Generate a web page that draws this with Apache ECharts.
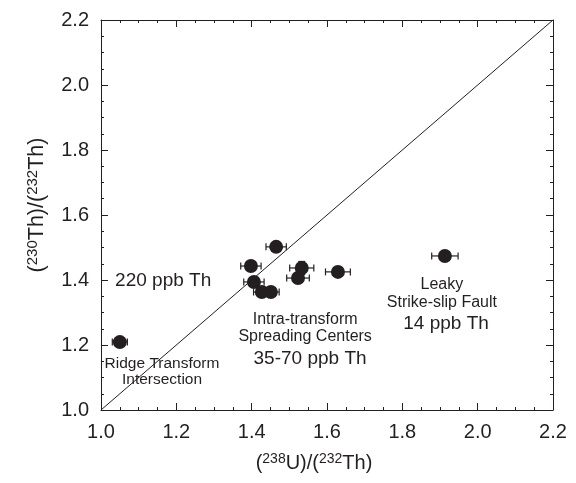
<!DOCTYPE html>
<html><head><meta charset="utf-8">
<script src="https://cdn.jsdelivr.net/npm/echarts@6/dist/echarts.min.js"></script>
<style>html,body{margin:0;padding:0;background:#fff}#c{width:576px;height:483px}</style>
</head><body><div id="c"></div>
<script>
// Data
var uTh = [1.05, 1.913, 1.465, 1.398, 1.406, 1.427, 1.451, 1.533, 1.523, 1.629];
var thTh = [1.209, 1.474, 1.502, 1.443, 1.394, 1.363, 1.363, 1.437, 1.406, 1.425];
var uThErr = [0.02, 0.035, 0.027, 0.027, 0.027, 0.022, 0.022, 0.032, 0.03, 0.033];
var thThErr = [0.008, 0.008, 0.008, 0.008, 0.01, 0.01, 0.01, 0.02, 0.015, 0.008];
var equiline = [[1.0, 1.0], [2.2, 2.2]];
var xTicks = [1.0, 1.2, 1.4, 1.6, 1.8, 2.0, 2.2];
var yTicks = [1.0, 1.2, 1.4, 1.6, 1.8, 2.0, 2.2];
var noteTexts = ['220 ppb Th', 'Intra-transform', 'Spreading Centers', '35-70 ppb Th',
  'Ridge Transform', 'Intersection', 'Leaky', 'Strike-slip Fault', '14 ppb Th'];
var noteX = [1.165, 1.542, 1.542, 1.555, 1.162, 1.162, 1.905, 1.905, 1.916];
var noteY = [1.397, 1.277, 1.225, 1.157, 1.142, 1.093, 1.385, 1.332, 1.265];
var noteSize = [19, 16, 16, 19, 15.5, 15.5, 16, 16, 19];

var FONT = 'Liberation Sans, Arial, sans-serif';
var INK = '#231f20';
var chart = echarts.init(document.getElementById('c'));

function axisCommon(showLabels) {
  return {
    min: 1.0, max: 2.2, interval: 0.2,
    axisLine: {show: true, onZero: false, lineStyle: {color: INK, width: 1}},
    axisTick: {show: true, inside: true, length: 7, lineStyle: {color: INK, width: 1}},
    minorTick: {show: true, splitNumber: 4, length: 3, lineStyle: {color: INK, width: 1}},
    splitLine: {show: false},
    axisLabel: {show: showLabels, color: INK, fontFamily: FONT, fontSize: 20,
      formatter: function (v) { return v.toFixed(1); }}
  };
}

function richTitle(sz) {
  return {
    p: {fontFamily: FONT, fontSize: sz, color: INK},
    s: {fontFamily: FONT, fontSize: Math.round(sz * 0.7), color: INK, verticalAlign: 'top', padding: [0, 0, 9, 0]}
  };
}

var xMain = axisCommon(true);
xMain.type = 'value'; xMain.position = 'bottom'; xMain.axisLabel.margin = 12;
xMain.name = '{p|(}{s|238}{p|U)/(}{s|232}{p|Th)}';
xMain.nameLocation = 'middle'; xMain.nameGap = 42;
xMain.nameTextStyle = {rich: richTitle(20), padding: [0, 26, 0, 0]};
var xTop = axisCommon(false); xTop.type = 'value'; xTop.position = 'top';

var yMain = axisCommon(true);
yMain.type = 'value'; yMain.position = 'left'; yMain.axisLabel.margin = 12;
yMain.name = '{p|(}{s|230}{p|Th)/(}{s|232}{p|Th)}';
yMain.nameLocation = 'middle'; yMain.nameGap = 52; yMain.nameRotate = 90;
yMain.nameTextStyle = {rich: richTitle(21.5), padding: [0, 0, 0, 20]};
var yRight = axisCommon(false); yRight.type = 'value'; yRight.position = 'right';

var pts = uTh.map(function (x, i) { return [x, thTh[i]]; });
var errData = uTh.map(function (x, i) { return [x, thTh[i], uThErr[i], thThErr[i]]; });
var notes = noteTexts.map(function (t, i) {
  return {value: [noteX[i], noteY[i]], label: {formatter: t, fontSize: noteSize[i]}};
});

chart.setOption({
  animation: false,
  backgroundColor: '#fff',
  grid: {left: 101, right: 23, top: 20, bottom: 73},
  xAxis: [xMain, xTop],
  yAxis: [yMain, yRight],
  series: [
    {type: 'line', data: equiline, symbol: 'none', xAxisIndex: 0, yAxisIndex: 0,
     lineStyle: {color: INK, width: 1}},
    {type: 'custom', xAxisIndex: 0, yAxisIndex: 0, data: errData,
     renderItem: function (params, api) {
       var x = api.value(0), y = api.value(1), ex = api.value(2), ey = api.value(3);
       var l = api.coord([x - ex, y]), r = api.coord([x + ex, y]);
       var t = api.coord([x, y + ey]), b = api.coord([x, y - ey]);
       var st = {stroke: INK, lineWidth: 1.2};
       var c = 3.5;
       return {type: 'group', children: [
         {type: 'line', shape: {x1: l[0], y1: l[1], x2: r[0], y2: r[1]}, style: st},
         {type: 'line', shape: {x1: l[0], y1: l[1] - c, x2: l[0], y2: l[1] + c}, style: st},
         {type: 'line', shape: {x1: r[0], y1: r[1] - c, x2: r[0], y2: r[1] + c}, style: st},
         {type: 'line', shape: {x1: t[0], y1: t[1], x2: b[0], y2: b[1]}, style: st},
         {type: 'line', shape: {x1: t[0] - c, y1: t[1], x2: t[0] + c, y2: t[1]}, style: st},
         {type: 'line', shape: {x1: b[0] - c, y1: b[1], x2: b[0] + c, y2: b[1]}, style: st}
       ]};
     }},
    {type: 'scatter', xAxisIndex: 0, yAxisIndex: 0, data: pts, symbol: 'circle', symbolSize: 14,
     itemStyle: {color: INK, opacity: 1}, z: 5},
    {type: 'scatter', xAxisIndex: 0, yAxisIndex: 0, data: notes, symbolSize: 1,
     itemStyle: {color: 'transparent', opacity: 1}, silent: true,
     label: {show: true, position: 'inside', color: INK, opacity: 1, fontFamily: FONT}}
  ]
});
</script></body></html>
